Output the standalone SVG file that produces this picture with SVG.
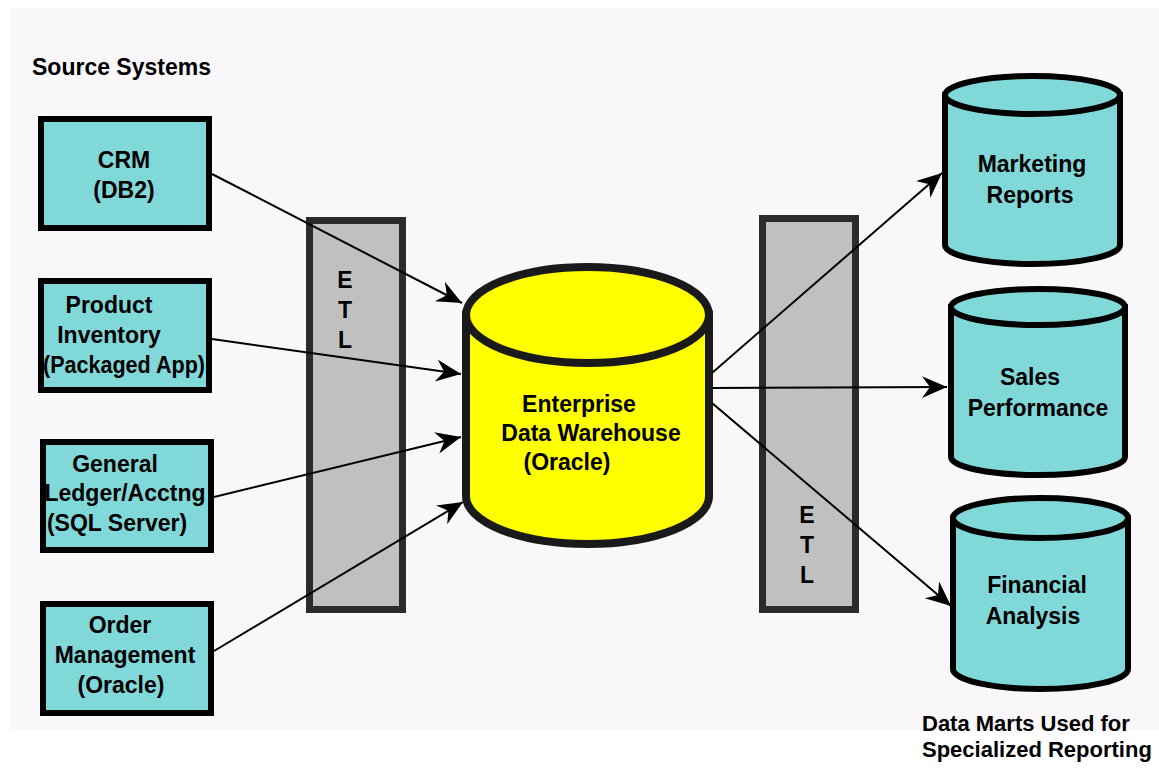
<svg xmlns="http://www.w3.org/2000/svg" width="1159" height="772" viewBox="0 0 1159 772">
<style>
  text { font-family: "Liberation Sans", Arial, sans-serif; font-weight: bold; font-size: 23px; fill: #000; }
  .mid { text-anchor: middle; }
  .note { font-size: 22px; }
  .box { fill: #81d8d9; stroke: #000; stroke-width: 6; }
  .etl { fill: #c0c0c0; stroke: #2b2b2b; stroke-width: 7; }
  .cyl { fill: #81d8d9; stroke: #000; stroke-width: 6; }
  .edw { fill: #ffff00; stroke: #1a1a1a; stroke-width: 8; }
  .conn { stroke: #000; stroke-width: 2; fill: none; }
</style>
<defs>
  <marker id="arr" markerUnits="userSpaceOnUse" markerWidth="30" markerHeight="26" refX="25" refY="11" orient="auto">
    <path d="M25,11 L0,0 L8,11 L0,22 Z" fill="#000"/>
  </marker>
</defs>
<rect x="0" y="0" width="1159" height="772" fill="#ffffff"/>
<rect x="10" y="8" width="1149" height="722" fill="#f9f7f9"/>

<text x="32" y="75">Source Systems</text>

<g id="etl-left">
  <rect class="etl" x="309.5" y="220.5" width="93" height="389"/>
  <text class="mid" x="345" y="288">E</text>
  <text class="mid" x="345" y="318">T</text>
  <text class="mid" x="345" y="348">L</text>
</g>
<g id="etl-right">
  <rect class="etl" x="762.5" y="218.5" width="93" height="391"/>
  <text class="mid" x="807" y="523">E</text>
  <text class="mid" x="807" y="553">T</text>
  <text class="mid" x="807" y="583">L</text>
</g>

<g id="connectors">
  <line class="conn" x1="212" y1="174" x2="462" y2="303" marker-end="url(#arr)"/>
  <line class="conn" x1="212" y1="339" x2="461" y2="374" marker-end="url(#arr)"/>
  <line class="conn" x1="214" y1="497" x2="461" y2="437" marker-end="url(#arr)"/>
  <line class="conn" x1="214" y1="651" x2="463" y2="502" marker-end="url(#arr)"/>
  <line class="conn" x1="712" y1="373" x2="942" y2="173" marker-end="url(#arr)"/>
  <line class="conn" x1="712" y1="388" x2="947" y2="387" marker-end="url(#arr)"/>
  <line class="conn" x1="712" y1="403" x2="951" y2="606" marker-end="url(#arr)"/>
</g>

<g id="crm">
  <rect class="box" x="41" y="119" width="168" height="109"/>
  <text class="mid" x="124" y="168">CRM</text>
  <text class="mid" x="124" y="198">(DB2)</text>
</g>
<g id="product-inventory">
  <rect class="box" x="41" y="281" width="168" height="109"/>
  <text class="mid" x="109" y="313">Product</text>
  <text class="mid" x="109" y="343">Inventory</text>
  <text class="mid" x="124" y="373" textLength="162" lengthAdjust="spacingAndGlyphs">(Packaged App)</text>
</g>
<g id="general-ledger">
  <rect class="box" x="43" y="442" width="168" height="108"/>
  <text class="mid" x="115" y="472">General</text>
  <text class="mid" x="125" y="501">Ledger/Acctng</text>
  <text class="mid" x="117" y="531">(SQL Server)</text>
</g>
<g id="order-management">
  <rect class="box" x="43" y="604" width="168" height="109"/>
  <text class="mid" x="120" y="633">Order</text>
  <text class="mid" x="125" y="663">Management</text>
  <text class="mid" x="121" y="693">(Oracle)</text>
</g>

<g id="edw">
  <path class="edw" d="M466,315 L466,496 A121.5,48 0 0 0 709,496 L709,315 Z"/>
  <ellipse class="edw" cx="587.5" cy="315" rx="121.5" ry="48"/>
  <text class="mid" x="579" y="412">Enterprise</text>
  <text class="mid" x="591" y="441">Data Warehouse</text>
  <text class="mid" x="567" y="470">(Oracle)</text>
</g>

<g id="marketing-reports">
  <path class="cyl" d="M945,95 L945,245 A87.5,19 0 0 0 1120,245 L1120,95 Z"/>
  <ellipse class="cyl" cx="1032.5" cy="95" rx="87.5" ry="19"/>
  <text class="mid" x="1032" y="172">Marketing</text>
  <text class="mid" x="1030" y="203">Reports</text>
</g>
<g id="sales-performance">
  <path class="cyl" d="M951,307 L951,457 A87,18 0 0 0 1125,457 L1125,307 Z"/>
  <ellipse class="cyl" cx="1038" cy="307" rx="87" ry="18"/>
  <text class="mid" x="1030" y="385">Sales</text>
  <text class="mid" x="1038" y="416">Performance</text>
</g>
<g id="financial-analysis">
  <path class="cyl" d="M953,518 L953,669 A87.5,20 0 0 0 1128,669 L1128,518 Z"/>
  <ellipse class="cyl" cx="1040.5" cy="518" rx="87.5" ry="20"/>
  <text class="mid" x="1037" y="593">Financial</text>
  <text class="mid" x="1033" y="624">Analysis</text>
</g>

<text class="note" x="922" y="731">Data Marts Used for</text>
<text class="note" x="922" y="757">Specialized Reporting</text>
</svg>
